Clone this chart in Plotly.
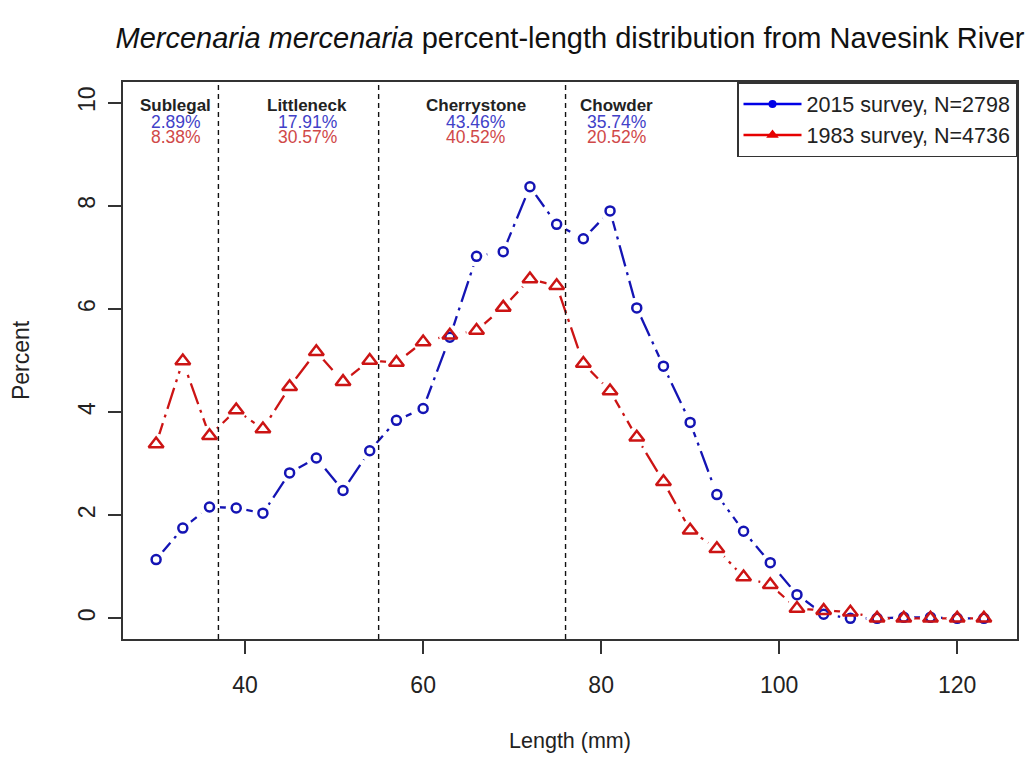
import plotly.graph_objects as go

# ---- data ----
length_mm = [30, 33, 36, 39, 42, 45, 48, 51, 54, 57, 60, 63, 66, 69, 72, 75,
             78, 81, 84, 87, 90, 93, 96, 99, 102, 105, 108, 111, 114, 117, 120, 123]
pct_2015 = [1.14, 1.75, 2.16, 2.14, 2.04, 2.82, 3.11, 2.48, 3.25, 3.84, 4.07, 5.45,
            7.02, 7.11, 8.37, 7.64, 7.36, 7.90, 6.02, 4.89, 3.80, 2.40, 1.69, 1.08,
            0.46, 0.08, 0.0, 0.0, 0.02, 0.02, 0.0, 0.0]
pct_1983 = [3.38, 4.99, 3.54, 4.04, 3.67, 4.49, 5.17, 4.59, 5.00, 4.96, 5.36, 5.49,
            5.58, 6.03, 6.58, 6.45, 4.94, 4.41, 3.51, 2.65, 1.71, 1.35, 0.80, 0.65,
            0.19, 0.15, 0.12, 0.0, 0.0, 0.0, 0.0, 0.0]

size_cutoffs = [37, 55, 76]
categories = ["Sublegal", "Littleneck", "Cherrystone", "Chowder"]
cat_pct_2015 = ["2.89%", "17.91%", "43.46%", "35.74%"]
cat_pct_1983 = ["8.38%", "30.57%", "40.52%", "20.52%"]
cat_label_x = [32.2, 47.0, 65.9, 81.7]

legend_2015 = "2015 survey, N=2798"
legend_1983 = "1983 survey, N=4736"

x_ticks = [40, 60, 80, 100, 120]
y_ticks = [0, 2, 4, 6, 8, 10]

BLUE = "#1414b4"
RED = "#cc1414"
TXT_BLUE = "#4141c8"
TXT_RED = "#d04848"
FONT = "Liberation Sans, Arial, sans-serif"
DASH = "22px,6px,3px,6px"

fig = go.Figure()

# lines
fig.add_trace(go.Scatter(x=length_mm, y=pct_2015, mode="lines",
                         line=dict(color=BLUE, width=2.3, dash=DASH),
                         showlegend=False, hoverinfo="skip"))
fig.add_trace(go.Scatter(x=length_mm, y=pct_1983, mode="lines",
                         line=dict(color=RED, width=2.3, dash=DASH),
                         showlegend=False, hoverinfo="skip"))
# gaps around points (type = "b" look)
for ys in (pct_2015, pct_1983):
    fig.add_trace(go.Scatter(x=length_mm, y=ys, mode="markers",
                             marker=dict(symbol="circle", size=21, color="white",
                                         line=dict(width=0)),
                             showlegend=False, hoverinfo="skip"))
# points
fig.add_trace(go.Scatter(x=length_mm, y=pct_2015, mode="markers",
                         marker=dict(symbol="circle-open", size=9, color=BLUE,
                                     line=dict(width=2.5, color=BLUE)),
                         showlegend=False))
fig.add_trace(go.Scatter(x=length_mm, y=pct_1983, mode="markers",
                         marker=dict(symbol="triangle-up-open", size=13, color=RED,
                                     line=dict(width=2.5, color=RED)),
                         showlegend=False))
# legend entries
fig.add_trace(go.Scatter(x=[None], y=[None], mode="lines+markers", name=legend_2015,
                         line=dict(color="#0000e6", width=2.5),
                         marker=dict(symbol="circle", size=8, color="#0000e6")))
fig.add_trace(go.Scatter(x=[None], y=[None], mode="lines+markers", name=legend_1983,
                         line=dict(color="#e60000", width=2.5),
                         marker=dict(symbol="triangle-up", size=11, color="#e60000")))

shapes = []
for c in size_cutoffs:
    shapes.append(dict(type="line", xref="x", yref="paper", x0=c, x1=c, y0=0, y1=1,
                       line=dict(color="#111111", width=1.4, dash="5px,4px"),
                       layer="above"))

annotations = []
for name, xpos, p15, p83 in zip(categories, cat_label_x, cat_pct_2015, cat_pct_1983):
    annotations.append(dict(x=xpos, y=9.94, xref="x", yref="y", text="<b>%s</b>" % name,
                            showarrow=False, font=dict(family=FONT, size=17, color="#222222")))
    annotations.append(dict(x=xpos, y=9.63, xref="x", yref="y", text=p15,
                            showarrow=False, font=dict(family=FONT, size=17.5, color=TXT_BLUE)))
    annotations.append(dict(x=xpos, y=9.34, xref="x", yref="y", text=p83,
                            showarrow=False, font=dict(family=FONT, size=17.5, color=TXT_RED)))

fig.update_layout(
    width=1031, height=761,
    margin=dict(l=123, r=13, t=82, b=120),
    paper_bgcolor="white", plot_bgcolor="white",
    font=dict(family=FONT, color="#222222"),
    title=dict(text="<i>Mercenaria mercenaria</i> percent-length distribution from Navesink River",
               x=0.5, xref="paper", xanchor="center", y=1 - 38 / 761, yanchor="middle",
               font=dict(family=FONT, size=29, color="#111111")),
    showlegend=True,
    legend=dict(x=1, y=1, xref="paper", yref="paper", xanchor="right", yanchor="top",
                bgcolor="white", bordercolor="#333333", borderwidth=1.5,
                font=dict(family=FONT, size=21.5, color="#222222"),
                itemwidth=58, tracegroupgap=0),
    shapes=shapes,
    annotations=annotations,
)

fig.update_xaxes(range=[26.28, 126.72], tickvals=x_ticks, ticks="outside", ticklen=13,
                 tickwidth=1.5, tickcolor="#333333", showline=True, mirror=True,
                 linecolor="#333333", linewidth=1.5, showgrid=False, zeroline=False,
                 tickfont=dict(family=FONT, size=23, color="#222222"),
                 ticklabelstandoff=12,
                 title=dict(text="Length (mm)", standoff=36,
                            font=dict(family=FONT, size=21.5, color="#222222")))
fig.update_yaxes(range=[-0.4, 10.4], tickvals=y_ticks, ticks="outside", ticklen=13,
                 tickwidth=1.5, tickcolor="#333333", showline=True, mirror=True,
                 linecolor="#333333", linewidth=1.5, showgrid=False, zeroline=False,
                 tickangle=-90,
                 tickfont=dict(family=FONT, size=23, color="#222222"),
                 ticklabelstandoff=4,
                 title=dict(text="Percent", standoff=38,
                            font=dict(family=FONT, size=23, color="#222222")))

fig.write_html("out.html")
